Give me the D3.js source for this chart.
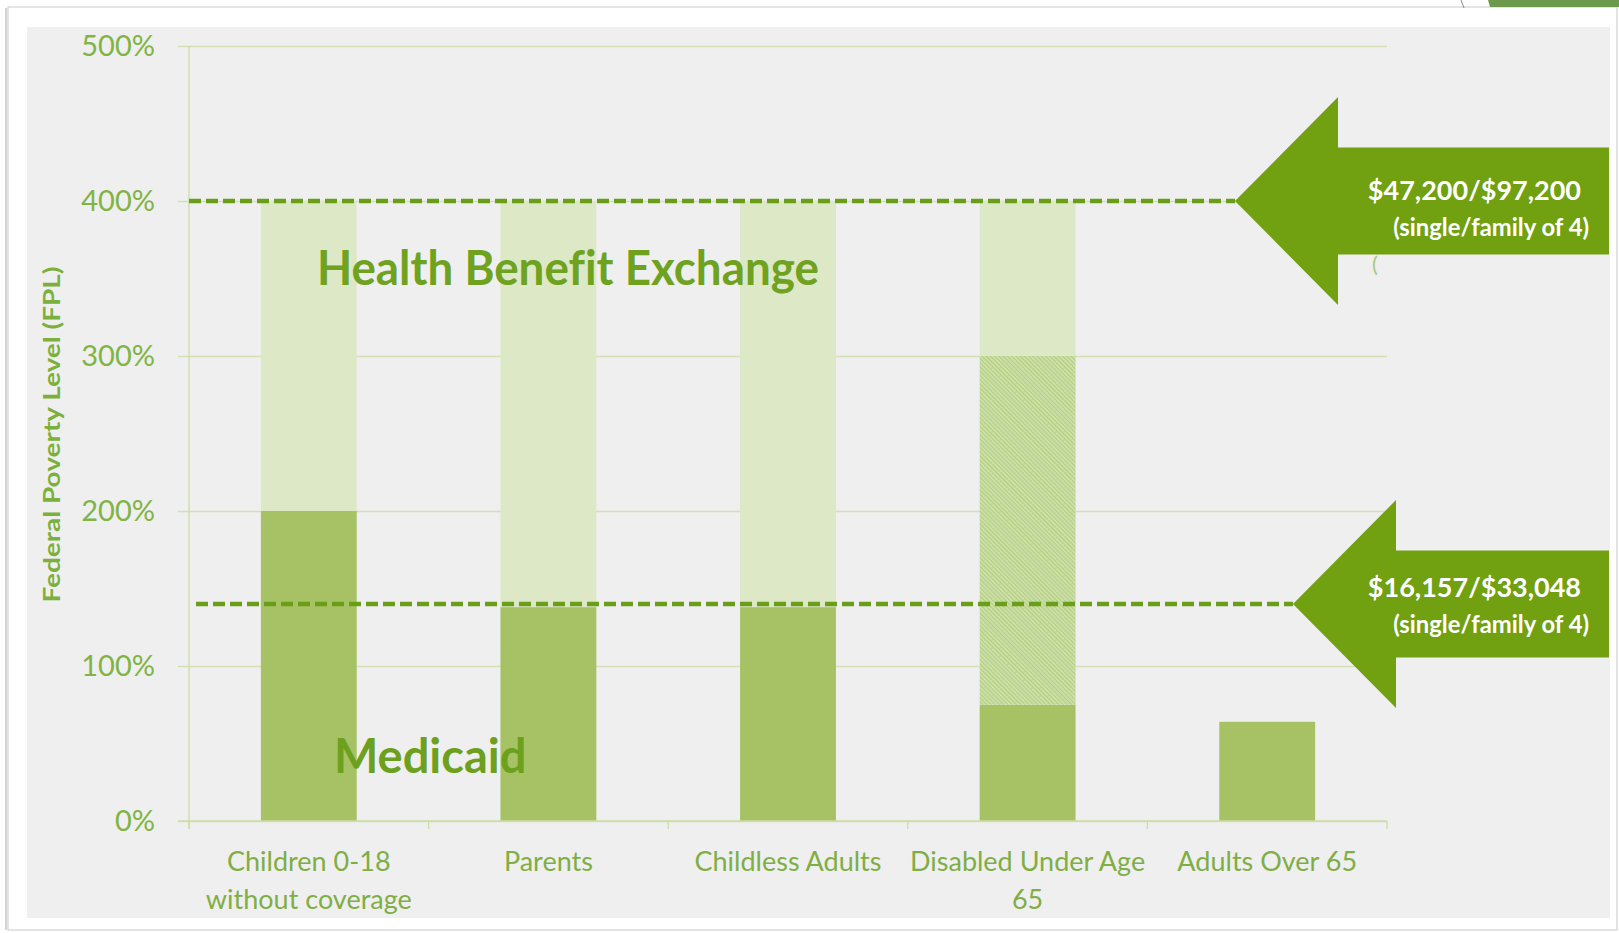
<!DOCTYPE html>
<html>
<head>
<meta charset="utf-8">
<script src="https://cdn.jsdelivr.net/npm/d3@7"></script>
<style>
  body { margin: 0; background: #fff; }
  svg { display: block; font-family: Lato, "Open Sans", sans-serif; font-variant-ligatures: none; }
</style>
</head>
<body>
<svg id="chart" width="1619" height="933"></svg>
<script>
// Categories on the x axis, and the lines each label is broken into
const categories = ['Children 0-18 without coverage', 'Parents', 'Childless Adults', 'Disabled Under Age 65', 'Adults Over 65'];
const categoryLines = [['Children 0-18', 'without coverage'], ['Parents'], ['Childless Adults'], ['Disabled Under Age', '65'], ['Adults Over 65']];

// Stacked segments, in % of the federal poverty level
const medicaidValues = [200, 138, 138, 75, 64];
const transitionValues = [0, 0, 0, 225, 0];   // hatched part (disabled only)
const exchangeValues = [200, 262, 262, 100, 0];

const yTicks = [0, 100, 200, 300, 400, 500];

// Dashed threshold lines with their arrow call-outs
const thresholds = [400, 140];
const thresholdAmounts = ['$47,200/$97,200', '$16,157/$33,048'];
const thresholdNote = '(single/family of 4)';

const width = 1619;
const height = 933;
const margin = { top: 46, right: 232, bottom: 112, left: 189 };

const svg = d3.select('#chart');

// slide frame + grey chart panel
svg.append('rect')
  .attr('x', 8).attr('y', 7)
  .attr('width', 1609).attr('height', 923)
  .attr('fill', '#fff')
  .attr('stroke', '#d2d2d2')
  .attr('stroke-width', 1.2);
svg.append('line')
  .attr('x1', 6).attr('x2', 6).attr('y1', 8).attr('y2', 930)
  .attr('stroke', '#c4c4c4').attr('stroke-width', 1.5);
svg.append('path')
  .attr('d', 'M1488,0 L1619,0 L1619,7 L1490,7 Z')
  .attr('fill', '#6c9a4c');
svg.append('line')
  .attr('x1', 1461).attr('y1', 0).attr('x2', 1464).attr('y2', 8)
  .attr('stroke', '#8a8a8a').attr('stroke-width', 1);
svg.append('rect')
  .attr('x', 27).attr('y', 27)
  .attr('width', 1583).attr('height', 891)
  .attr('fill', '#efefef');

const defs = svg.append('defs');
const hatch = defs.append('pattern')
  .attr('id', 'hatch')
  .attr('patternUnits', 'userSpaceOnUse')
  .attr('width', 3).attr('height', 3)
  .attr('patternTransform', 'rotate(45)');
hatch.append('rect').attr('width', 3).attr('height', 3).attr('fill', '#cde0a9');
hatch.append('line')
  .attr('x1', 0).attr('x2', 3).attr('y1', 1.5).attr('y2', 1.5)
  .attr('stroke', '#b2cc80').attr('stroke-width', 1.1);
defs.append('filter').attr('id', 'glow')
  .attr('x', '-5%').attr('y', '-200%').attr('width', '110%').attr('height', '500%')
  .append('feGaussianBlur').attr('stdDeviation', 2);

// scales
const x = d3.scaleBand()
  .domain(categories)
  .range([margin.left, width - margin.right])
  .paddingInner(0.6)
  .paddingOuter(0.3);
const y = d3.scaleLinear()
  .domain([0, 500])
  .range([height - margin.bottom, margin.top]);

const plotLeft = margin.left;
const plotRight = width - margin.right;
const baseY = y(0);

// gridlines (with the small tick stubs on the left)
svg.append('g')
  .attr('transform', `translate(${plotLeft - 11},0)`)
  .call(d3.axisLeft(y).tickValues(yTicks).tickSize(-(plotRight - plotLeft + 11)).tickFormat(''))
  .call(g => g.select('.domain').remove())
  .call(g => g.selectAll('line').attr('stroke', '#d4e0b4').attr('stroke-width', 1.3));

// y axis labels
svg.append('g')
  .attr('transform', `translate(${plotLeft},0)`)
  .call(d3.axisLeft(y).tickValues(yTicks).tickSize(0).tickPadding(34).tickFormat(d => d + '%'))
  .call(g => g.select('.domain').remove())
  .call(g => g.selectAll('text')
    .attr('font-family', 'Lato, sans-serif')
    .attr('font-size', 29)
    .attr('fill', '#80b443'));

// y axis line and x axis boundary ticks
svg.append('line')
  .attr('x1', plotLeft).attr('x2', plotLeft)
  .attr('y1', y(500)).attr('y2', baseY + 8)
  .attr('stroke', '#cddca8').attr('stroke-width', 1.3);
const boundaries = categories.map(c => x(c) - x.step() * x.paddingOuter()).concat([plotRight]);
svg.append('g')
  .selectAll('line')
  .data(boundaries)
  .enter().append('line')
  .attr('x1', d => d).attr('x2', d => d)
  .attr('y1', baseY).attr('y2', baseY + 8)
  .attr('stroke', '#cddca8').attr('stroke-width', 1.3);

// stacked bars
const rows = categories.map((c, i) => ({
  category: c,
  medicaid: medicaidValues[i],
  transition: transitionValues[i],
  exchange: exchangeValues[i]
}));
const keys = ['medicaid', 'transition', 'exchange'];
const fills = { medicaid: '#a6c264', transition: 'url(#hatch)', exchange: '#dde8c6' };
const stacked = d3.stack().keys(keys)(rows);

svg.append('g')
  .selectAll('g')
  .data(stacked)
  .enter().append('g')
  .attr('fill', s => fills[s.key])
  .selectAll('rect')
  .data(s => s.filter(d => d[1] > d[0]))
  .enter().append('rect')
  .attr('x', d => x(d.data.category))
  .attr('width', x.bandwidth())
  .attr('y', d => y(d[1]))
  .attr('height', d => y(d[0]) - y(d[1]));

// x axis labels
const xAxis = svg.append('g')
  .attr('transform', `translate(0,${baseY})`)
  .call(d3.axisBottom(x).tickSize(0).tickFormat(''))
  .call(g => g.select('.domain').attr('stroke', '#cddca8').attr('stroke-width', 1.3)
    .attr('d', `M${plotLeft - 11},0H${plotRight}`));
xAxis.selectAll('.tick text')
  .attr('y', 50)
  .attr('font-family', 'Lato, sans-serif')
  .attr('font-size', 27)
  .attr('fill', '#7fae45')
  .each(function (d, i) {
    const t = d3.select(this);
    categoryLines[i].forEach((line, j) => {
      t.append('tspan').attr('x', 0).attr('dy', j === 0 ? 0 : 38).text(line);
    });
  });

// dashed threshold lines
const dashStart = [plotLeft, plotLeft + 7];
const tipOffset = [152, 94];
thresholds.forEach((t, i) => {
  const ty = y(t);
  const x2 = plotRight - tipOffset[i];
  svg.append('line')
    .attr('x1', dashStart[i]).attr('x2', x2)
    .attr('y1', ty + 2).attr('y2', ty + 2)
    .attr('stroke', '#b8d28c').attr('stroke-width', 8)
    .attr('opacity', 0.75)
    .attr('filter', 'url(#glow)');
  svg.append('line')
    .attr('x1', dashStart[i]).attr('x2', x2)
    .attr('y1', ty).attr('y2', ty)
    .attr('stroke', '#6a9e18')
    .attr('stroke-width', 4.5)
    .attr('stroke-dasharray', '12,5');
});

// region labels
svg.append('text')
  .attr('x', x(categories[0]) + 56)
  .attr('y', y(346))
  .attr('font-size', 47)
  .attr('font-weight', 700)
  .attr('fill', '#6ea21f')
  .attr('textLength', 502)
  .attr('lengthAdjust', 'spacingAndGlyphs')
  .text('Health Benefit Exchange');
svg.append('text')
  .attr('x', x(categories[0]) + 73)
  .attr('y', y(31))
  .attr('font-size', 47)
  .attr('font-weight', 700)
  .attr('fill', '#6ca01d')
  .text('Medicaid');

// y title
svg.append('text')
  .attr('transform', `translate(60,${(y(0) + y(500)) / 2 + 1}) rotate(-90)`)
  .attr('text-anchor', 'middle')
  .attr('font-size', 23)
  .attr('font-weight', 700)
  .attr('fill', '#7cb03c')
  .attr('textLength', 336)
  .attr('lengthAdjust', 'spacingAndGlyphs')
  .text('Federal Poverty Level (FPL)');

// arrow call-outs
const arrowRight = 1609;
const headLen = 103;
const headHalf = 104;
const shaftHalf = 53.5;
const textShift = [0, -6];
thresholds.forEach((t, i) => {
  const cy = y(t);
  const tip = plotRight - tipOffset[i];
  const p = d3.path();
  p.moveTo(tip, cy);
  p.lineTo(tip + headLen, cy - headHalf);
  p.lineTo(tip + headLen, cy - shaftHalf);
  p.lineTo(arrowRight, cy - shaftHalf);
  p.lineTo(arrowRight, cy + shaftHalf);
  p.lineTo(tip + headLen, cy + shaftHalf);
  p.lineTo(tip + headLen, cy + headHalf);
  p.closePath();
  svg.append('path').attr('d', p.toString()).attr('fill', '#71a010');

  svg.append('text')
    .attr('x', 1581).attr('y', cy - 1 + textShift[i])
    .attr('text-anchor', 'end')
    .attr('font-size', 27)
    .attr('font-weight', 700)
    .attr('fill', '#fff')
    .text(thresholdAmounts[i]);
  svg.append('text')
    .attr('x', 1589).attr('y', cy + 35 + textShift[i])
    .attr('text-anchor', 'end')
    .attr('font-size', 23.8)
    .attr('font-weight', 700)
    .attr('fill', '#fff')
    .text(thresholdNote);
});

// stray bracket under the upper arrow
svg.append('text')
  .attr('x', plotRight - tipOffset[0] + 137)
  .attr('y', y(thresholds[0]) + 71)
  .attr('font-size', 22)
  .attr('fill', '#a9c97a')
  .text('(');
</script>
</body>
</html>
